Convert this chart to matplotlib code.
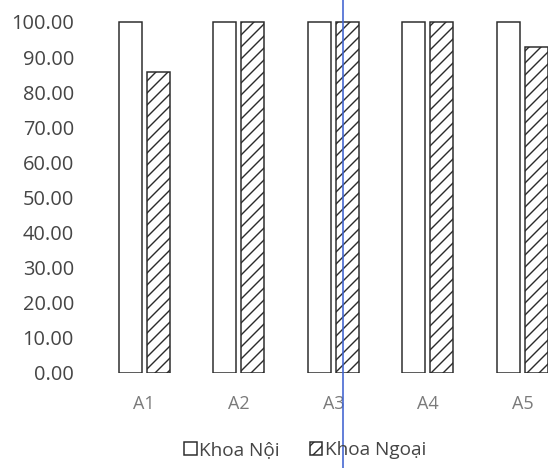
import matplotlib.pyplot as plt
import matplotlib.lines as mlines
import numpy as np

# Dữ liệu
nhom = ['A1', 'A2', 'A3', 'A4', 'A5']
khoa_noi = [100.0, 100.0, 100.0, 100.0, 100.0]
khoa_ngoai = [85.7, 100.0, 100.0, 100.0, 92.9]
nhan_y = [0, 10, 20, 30, 40, 50, 60, 70, 80, 90, 100]

plt.rcParams['font.family'] = ['Open Sans', 'DejaVu Sans']
plt.rcParams['hatch.linewidth'] = 1.4
plt.rcParams['hatch.color'] = '#2b2b2b'

DPI = 72
fig = plt.figure(figsize=(548 / DPI, 468 / DPI), dpi=DPI)
ax = fig.add_axes([97 / 548, 95 / 468, 1 - 97 / 548, 368.6 / 468])

x = np.arange(len(nhom))
width = 0.243
off = 0.148

ax.bar(x - off, khoa_noi, width, color='white', edgecolor='#2b2b2b',
       linewidth=1.5, label='Khoa Nội')
ax.bar(x + off, khoa_ngoai, width, color='white', edgecolor='#2b2b2b',
       linewidth=1.5, hatch='//', label='Khoa Ngoại')

ax.set_xlim(-0.5, 4.27)
ax.set_ylim(0, 105)
ax.set_yticks(nhan_y)
ax.set_yticklabels([f'{v:.2f}' for v in nhan_y], fontsize=20, color='#454545')
ax.set_xticks(x)
ax.set_xticklabels(nhom, fontsize=18, color='#7a7a7a')
ax.tick_params(axis='y', length=0, pad=23)
ax.tick_params(axis='x', length=0, pad=22)
for s in ax.spines.values():
    s.set_visible(False)

fig.legend(loc='center', bbox_to_anchor=(0.557, 0.038), ncol=2, frameon=False,
           fontsize=19, labelcolor='#454545', handlelength=0.65, handleheight=0.65,
           handletextpad=0.12, columnspacing=1.6)

# vệt bút xanh trên bản quét
fig.add_artist(mlines.Line2D([343 / 548, 343 / 548], [0, 1], color='#3f63d0',
                             linewidth=1.6, transform=fig.transFigure))

fig.savefig('out.png', dpi=DPI)
